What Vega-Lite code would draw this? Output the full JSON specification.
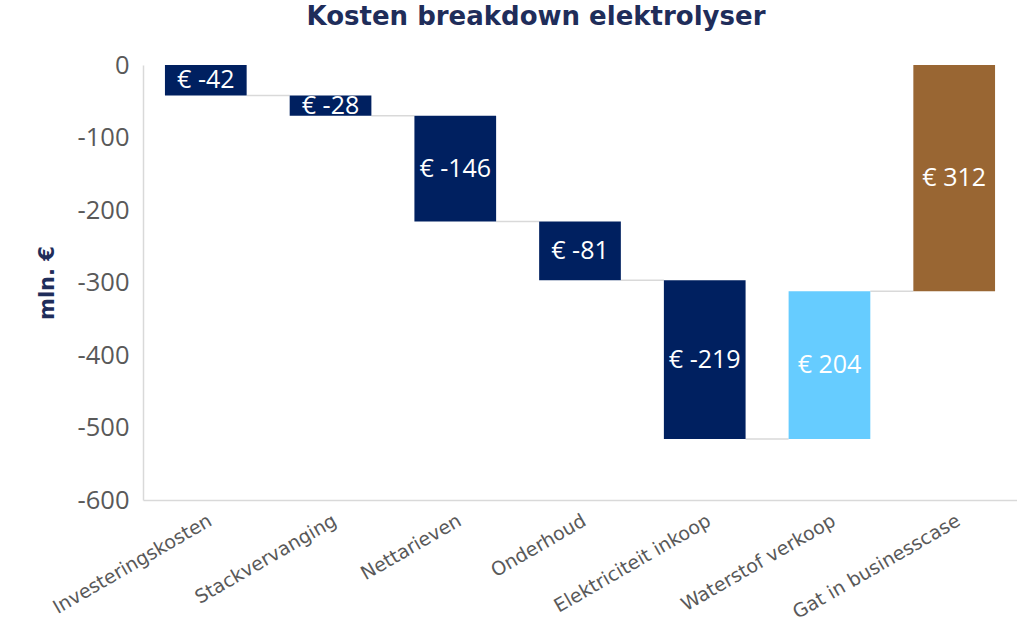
{
  "$schema": "https://vega.github.io/schema/vega-lite/v6.json",
  "width": 874,
  "height": 435,
  "autosize": {"type": "none"},
  "padding": {"left": 143, "top": 65, "right": 0, "bottom": 128},
  "background": "white",
  "config": {"view": {"stroke": null}},
  "title": {
    "text": "Kosten breakdown elektrolyser",
    "font": "DejaVu Sans",
    "fontWeight": "bold",
    "fontSize": 26,
    "color": "#1F2D5A",
    "anchor": "middle",
    "dx": -44,
    "offset": 23
  },
  "data": {
    "values": [
      {"cat": "Investeringskosten", "start": 0, "end": -42, "label": "€ -42", "kind": "kosten", "next": "Stackvervanging"},
      {"cat": "Stackvervanging", "start": -42, "end": -70, "label": "€ -28", "kind": "kosten", "next": "Nettarieven"},
      {"cat": "Nettarieven", "start": -70, "end": -216, "label": "€ -146", "kind": "kosten", "next": "Onderhoud"},
      {"cat": "Onderhoud", "start": -216, "end": -297, "label": "€ -81", "kind": "kosten", "next": "Elektriciteit inkoop"},
      {"cat": "Elektriciteit inkoop", "start": -297, "end": -516, "label": "€ -219", "kind": "kosten", "next": "Waterstof verkoop"},
      {"cat": "Waterstof verkoop", "start": -516, "end": -312, "label": "€ 204", "kind": "opbrengst", "next": "Gat in businesscase"},
      {"cat": "Gat in businesscase", "start": -312, "end": 0, "label": "€ 312", "kind": "gat", "next": null}
    ]
  },
  "encoding": {
    "x": {
      "field": "cat",
      "type": "nominal",
      "sort": null,
      "scale": {
        "domain": ["Investeringskosten", "Stackvervanging", "Nettarieven", "Onderhoud", "Elektriciteit inkoop", "Waterstof verkoop", "Gat in businesscase"],
        "paddingInner": 0.345,
        "paddingOuter": 0.176
      },
      "axis": {
        "title": null,
        "labelAngle": -30,
        "labelFont": "DejaVu Sans",
        "labelFontSize": 19,
        "labelColor": "#595959",
        "labelPadding": 11,
        "labelLimit": 400,
        "ticks": false,
        "domainColor": "#D9D9D9",
        "domainWidth": 1.5,
        "orient": "bottom"
      }
    }
  },
  "layer": [
    {
      "transform": [{"filter": "datum.next != null"}],
      "mark": {"type": "rule", "color": "#D9D9D9", "strokeWidth": 1.5},
      "encoding": {
        "x": {"field": "cat", "type": "nominal", "sort": null, "bandPosition": 1},
        "x2": {"field": "next", "bandPosition": 0},
        "y": {"field": "end", "type": "quantitative"}
      }
    },
    {
      "mark": {"type": "bar"},
      "encoding": {
        "y": {
          "field": "start",
          "type": "quantitative",
          "scale": {"domain": [-600, 0], "nice": false, "zero": false},
          "axis": {
            "title": "mln. €",
            "titleFont": "DejaVu Sans",
            "titleFontWeight": "bold",
            "titleFontSize": 21,
            "titleColor": "#1F2D5A",
            "titlePadding": 20,
            "values": [0, -100, -200, -300, -400, -500, -600],
            "labelExpr": "toString(datum.value)",
            "labelFont": "Open Sans",
            "labelFontSize": 25.5,
            "labelColor": "#595959",
            "labelPadding": 14,
            "ticks": false,
            "grid": false,
            "domainColor": "#D9D9D9",
            "domainWidth": 1.5
          }
        },
        "y2": {"field": "end"},
        "color": {
          "field": "kind",
          "type": "nominal",
          "scale": {"domain": ["kosten", "opbrengst", "gat"], "range": ["#002060", "#66CCFF", "#996633"]},
          "legend": null
        }
      }
    },
    {
      "transform": [{"calculate": "(datum.start + datum.end) / 2", "as": "mid"}],
      "mark": {"type": "text", "color": "white", "font": "Open Sans", "fontSize": 25, "baseline": "middle", "align": "center"},
      "encoding": {
        "y": {"field": "mid", "type": "quantitative"},
        "text": {"field": "label"}
      }
    }
  ]
}
